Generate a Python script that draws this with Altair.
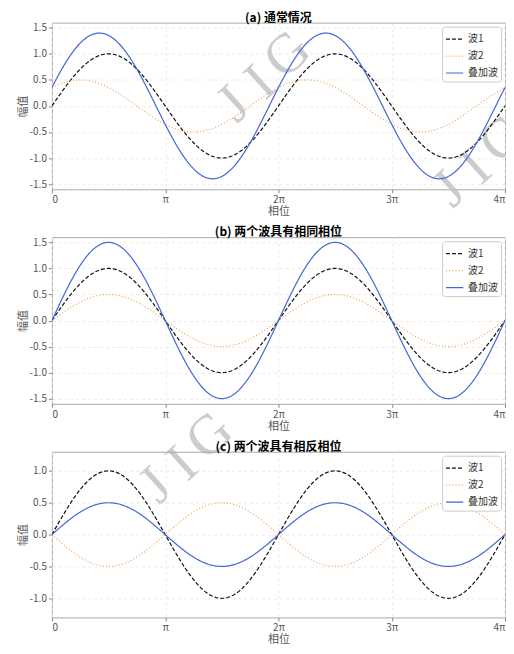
import numpy as np
import pandas as pd
import altair as alt

PI = float(np.pi)

# --- chart values -------------------------------------------------------
n_samples = 401
phase_end = 4 * PI
series_names = ["波1", "波2", "叠加波"]
series_colors = ["#111111", "#f0a050", "#4366d6"]
series_dash = [[4, 2], [1, 2.2], [1, 0]]
series_width = [1.2, 1.2, 2.0]
wave1_amp = 1.0
wave2_amp = 0.5
panel_titles = ["(a) 通常情况", "(b) 两个波具有相同相位", "(c) 两个波具有相反相位"]
wave2_phase = [PI / 4, 0.0, PI]
panel_ylim = [1.6, 1.6, 1.3]
panel_yticks = [
    [-1.5, -1.0, -0.5, 0.0, 0.5, 1.0, 1.5],
    [-1.5, -1.0, -0.5, 0.0, 0.5, 1.0, 1.5],
    [-1.0, -0.5, 0.0, 0.5, 1.0],
]
panel_heights = [167, 167, 166]
x_tick_values = [0.0, PI, 2 * PI, 3 * PI, 4 * PI]
x_tick_labels = ["0", "π", "2π", "3π", "4π"]

# watermark "JIG": letters and their offsets from the centre letter
wm_letters = ["J", "I", "G"]
wm_dx = [-27, 0, 27]
wm_dy = [22, 0, -28]
# watermark centres per panel (pixel offsets inside each panel's plot area)
wm_centres = [[(209, 60), (425, 145)], [(131, 227)], []]

W = 454
FONT = "Noto Sans CJK SC"

x_label_expr = "[" + ",".join("'%s'" % s for s in x_tick_labels) + "][round(datum.value / PI)]"
y_label_expr = "replace(format(datum.value, '.1f'), '\u2212', '-')"


def panel(i):
    x = np.linspace(0, phase_end, n_samples)
    y1 = wave1_amp * np.sin(x)
    y2 = wave2_amp * np.sin(x + wave2_phase[i])
    ys = [y1, y2, y1 + y2]
    df = pd.concat(
        [pd.DataFrame({"x": x, "y": y, "series": name, "order": k})
         for k, (name, y) in enumerate(zip(series_names, ys))],
        ignore_index=True,
    )
    lim = panel_ylim[i]
    lines = alt.Chart(df).mark_line(clip=True).encode(
        x=alt.X("x:Q", scale=alt.Scale(domain=[0, phase_end], nice=False, zero=False),
                axis=alt.Axis(values=x_tick_values, labelExpr=x_label_expr, title="相位")),
        y=alt.Y("y:Q", scale=alt.Scale(domain=[-lim, lim], nice=False),
                axis=alt.Axis(values=panel_yticks[i], labelExpr=y_label_expr, title="幅值")),
        color=alt.Color("series:N", scale=alt.Scale(domain=series_names, range=series_colors),
                        legend=alt.Legend(title=None, orient="top-right")),
        strokeDash=alt.StrokeDash("series:N", scale=alt.Scale(domain=series_names, range=series_dash),
                                  legend=alt.Legend(title=None, orient="top-right")),
        strokeWidth=alt.StrokeWidth("series:N", scale=alt.Scale(domain=series_names, range=series_width),
                                    legend=None),
        order="order:Q",
    )
    layers = []
    for (cx, cy) in wm_centres[i]:
        for letter, dx, dy in zip(wm_letters, wm_dx, wm_dy):
            px, py = cx + dx, cy + dy
            needs_clip = (px + 22 > W) or (py - 40 < 0)
            wm = alt.Chart(pd.DataFrame({"t": [letter]})).mark_text(
                font="Liberation Serif", fontSize=56, angle=318, color="#c4c4c4", opacity=0.85,
                align="center", baseline="middle", clip=needs_clip,
            ).encode(x=alt.value(px), y=alt.value(py), text="t:N")
            layers.append(wm)
    layers.append(lines)
    return alt.layer(*layers).properties(
        width=W, height=panel_heights[i],
        title=alt.TitleParams(panel_titles[i], fontSize=12, fontWeight="bold", font=FONT,
                              color="#000", offset=-2, anchor="middle"),
    )


chart = alt.vconcat(panel(0), panel(1), panel(2), spacing=48, bounds="flush").resolve_scale(
    color="independent", strokeDash="independent", strokeWidth="independent"
).properties(
    padding={"left": 8, "top": 2, "right": 0, "bottom": 0}
).configure_view(
    stroke="#aaaaaa", strokeWidth=1
).configure_axis(
    domain=False, grid=True, gridDash=[3, 3], gridColor="#e6e6e6", gridWidth=0.8,
    tickColor="#888888", tickSize=3.5, labelFont=FONT, labelFontSize=10, labelColor="#555555",
    titleFont=FONT, titleFontSize=11, titleColor="#555555", titleFontWeight="normal",
    labelPadding=2, titlePadding=1,
).configure_legend(
    labelFont=FONT, labelFontSize=10, labelColor="#333333", symbolType="stroke",
    symbolSize=300, symbolStrokeWidth=1.5, fillColor="#ffffff", strokeColor="#cccccc",
    cornerRadius=3, padding=3, rowPadding=2, offset=4, labelOffset=4,
)

chart.save("out.html", embed_options={"renderer": "svg", "actions": False})
